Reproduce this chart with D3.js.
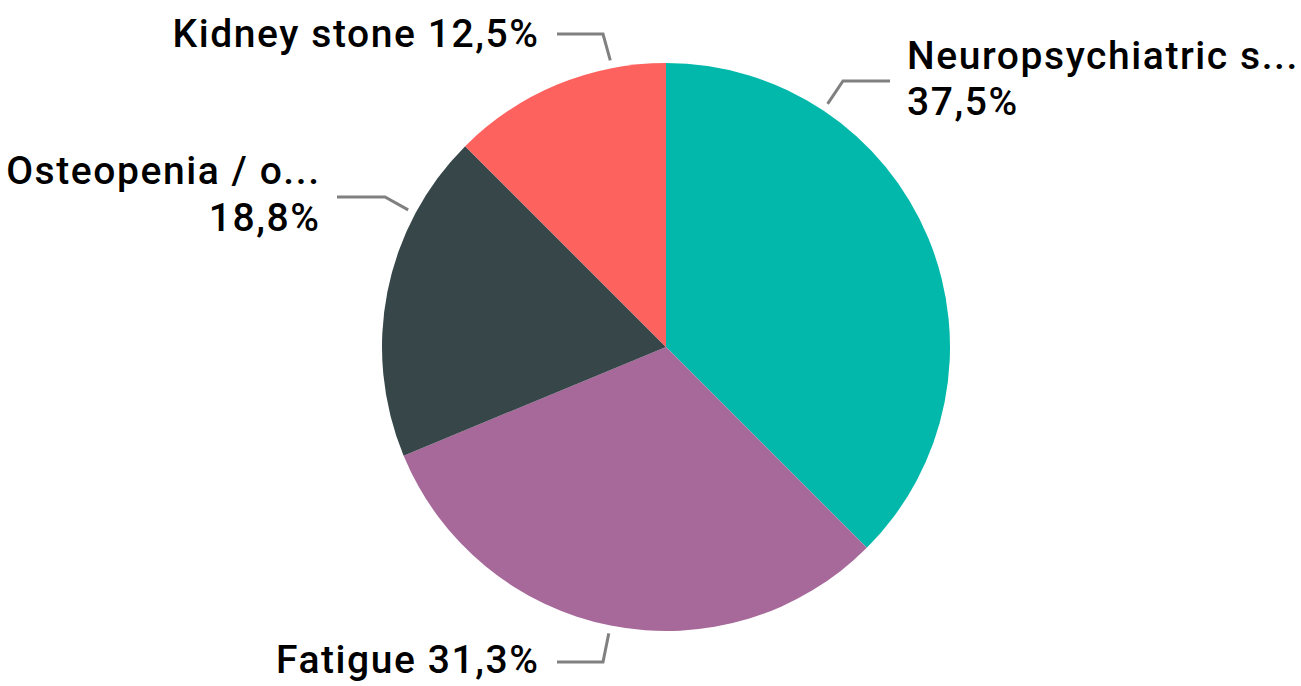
<!DOCTYPE html>
<html>
<head>
<meta charset="utf-8">
<script src="https://cdn.jsdelivr.net/npm/d3@7"></script>
<style>
  body { margin: 0; background: #fff; }
  text { font-family: Roboto, "DejaVu Sans", sans-serif; font-weight: 500; fill: #000; }
</style>
</head>
<body>
<script>
// data
var categories = ["Neuropsychiatric s...", "Fatigue", "Osteopenia / o...", "Kidney stone"];
var values = [6, 5, 3, 2];
var colors = ["#01B8AA", "#A66999", "#374649", "#FD625E"];

// label layout (leader start angle in degrees from top, elbow and end points)
var labelAngle = [33.6, 191.3, -62, -11];
var labelElbow = [[843, 81], [603, 662], [385, 197], [603, 34]];
var labelEnd = [[890, 81], [557, 662], [337, 197], [557, 34]];

var W = 1301, H = 686;
var cx = 666, cy = 347, r = 284;

var svg = d3.select("body").append("svg")
    .attr("width", W)
    .attr("height", H);

var pie = d3.pie().sort(null).value(function(d){ return d; });
var arcs = pie(values);
var total = d3.sum(values);
var arc = d3.arc().innerRadius(0).outerRadius(r);

var g = svg.append("g").attr("transform", "translate(" + cx + "," + cy + ")");
g.selectAll("path")
    .data(arcs)
    .enter().append("path")
      .attr("d", arc)
      .attr("fill", function(d,i){ return colors[i]; });

var fmt = function(v){ return (Math.round(v / total * 1000) / 10).toFixed(1).replace(".", ",") + "%"; };

// leader lines
arcs.forEach(function(d, i){
  var a = labelAngle[i] * Math.PI / 180;
  var p0 = [cx + (r + 8) * Math.sin(a), cy - (r + 8) * Math.cos(a)];
  svg.append("polyline")
    .attr("points", [p0, labelElbow[i], labelEnd[i]].map(function(p){ return p.join(","); }).join(" "))
    .attr("fill", "none")
    .attr("stroke", "#808080")
    .attr("stroke-width", 3);
});

var fs = 39;
// fit letter spacing so "Kidney stone 12,5%" spans about 367px
var probe = svg.append("text").attr("font-size", fs).text(categories[3] + " " + fmt(values[3]));
var n = probe.text().length;
var ls = (367 - probe.node().getComputedTextLength()) / n;
probe.remove();

// Neuropsychiatric: two lines, left aligned
var t0 = svg.append("text").attr("y", 69).attr("font-size", fs).attr("letter-spacing", ls);
t0.append("tspan").attr("x", 907).text(categories[0]);
t0.append("tspan").attr("x", 907).attr("dy", 46).text(fmt(values[0]));
// Osteopenia: two lines, right aligned
var t2 = svg.append("text").attr("y", 184).attr("font-size", fs).attr("text-anchor", "end").attr("letter-spacing", ls);
t2.append("tspan").attr("x", 319 + ls).text(categories[2]);
t2.append("tspan").attr("x", 319 + ls).attr("dy", 47).text(fmt(values[2]));
// Fatigue, Kidney stone: single line, right aligned
svg.append("text").attr("x", 538 + ls).attr("y", 673).attr("font-size", fs).attr("text-anchor", "end").attr("letter-spacing", ls)
    .text(categories[1] + " " + fmt(values[1]));
svg.append("text").attr("x", 538 + ls).attr("y", 47).attr("font-size", fs).attr("text-anchor", "end").attr("letter-spacing", ls)
    .text(categories[3] + " " + fmt(values[3]));
</script>
</body>
</html>
